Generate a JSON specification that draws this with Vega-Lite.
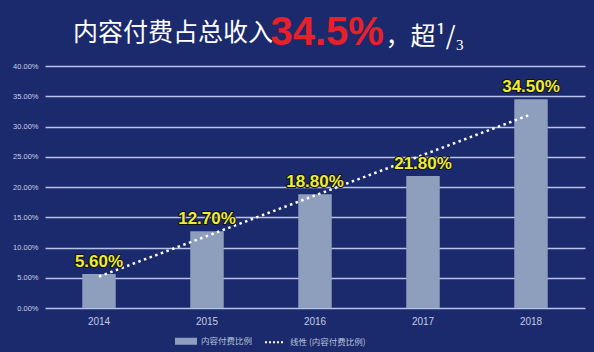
{
  "$schema": "https://vega.github.io/schema/vega-lite/v6.json",
  "width": 540,
  "height": 242,
  "autosize": {"type": "none"},
  "padding": {"left": 45, "top": 66, "right": 9, "bottom": 44},
  "background": "#1b2a6c",
  "config": {"view": {"stroke": null}, "font": "Noto Sans CJK SC"},
  "title": {
    "text": "内容付费占总收入",
    "anchor": "start",
    "frame": "group",
    "color": "#ffffff",
    "fontSize": 25,
    "fontWeight": "normal",
    "font": "Noto Sans CJK SC",
    "baseline": "alphabetic",
    "dx": 28,
    "dy": 76,
    "offset": 22
  },
  "datasets": {
    "bars": [
      {"year": "2014", "value": 0.056, "series": "内容付费比例"},
      {"year": "2015", "value": 0.127, "series": "内容付费比例"},
      {"year": "2016", "value": 0.188, "series": "内容付费比例"},
      {"year": "2017", "value": 0.218, "series": "内容付费比例"},
      {"year": "2018", "value": 0.345, "series": "内容付费比例"}
    ],
    "trend": [
      {"year": "2014", "value": 0.052, "series": "线性 (内容付费比例)"},
      {"year": "2018", "value": 0.32, "series": "线性 (内容付费比例)"}
    ]
  },
  "encoding": {
    "x": {
      "field": "year",
      "type": "ordinal",
      "scale": {"paddingInner": 0.69, "paddingOuter": 0.345},
      "axis": {
        "title": "，超¹/₃",
        "titleColor": "#ffffff",
        "titleFontSize": 25,
        "titleFontWeight": "normal",
        "titleFont": "Noto Sans CJK SC",
        "titleAlign": "left",
        "titleBaseline": "alphabetic",
        "titleX": 340,
        "titleY": -264,
        "labelAngle": 0,
        "labelFontSize": 10,
        "labelColor": "#c3cbe3",
        "labelFont": "Liberation Sans",
        "labelPadding": 8,
        "ticks": false,
        "domain": false
      }
    },
    "y": {
      "field": "value",
      "type": "quantitative",
      "scale": {"domain": [0, 0.4]},
      "axis": {
        "title": "34.5%",
        "titleAngle": 0,
        "titleColor": "#e8202a",
        "titleFontSize": 40,
        "titleFontWeight": "bold",
        "titleFont": "Liberation Sans",
        "titleAlign": "left",
        "titleBaseline": "alphabetic",
        "titleX": 225,
        "titleY": -22,
        "values": [0, 0.05, 0.1, 0.15, 0.2, 0.25, 0.3, 0.35, 0.4],
        "format": ".2%",
        "grid": true,
        "gridColor": "#b6c2e8",
        "gridWidth": 1.5,
        "domain": false,
        "ticks": false,
        "labelPadding": 7,
        "labelFontSize": 7.5,
        "labelColor": "#c8d0e8",
        "labelFont": "Liberation Sans"
      }
    }
  },
  "layer": [
    {
      "data": {"name": "bars"},
      "mark": {"type": "bar"},
      "encoding": {
        "color": {
          "field": "series",
          "type": "nominal",
          "scale": {
            "domain": ["内容付费比例", "线性 (内容付费比例)"],
            "range": ["#8e9fbd", "#ffffff"]
          },
          "legend": {
            "title": null,
            "orient": "none",
            "direction": "horizontal",
            "legendX": 130,
            "legendY": 264,
            "symbolType": "stroke",
            "symbolSize": 400,
            "labelFontSize": 8.5,
            "labelColor": "#b8c2dc",
            "labelFont": "Noto Sans CJK SC",
            "columnPadding": 8,
            "encode": {
              "symbols": {
                "update": {
                  "shape": {"signal": "datum.value == '内容付费比例' ? 'M-1,-0.25H1V0.25H-1Z' : 'stroke'"},
                  "fill": {"signal": "datum.value == '内容付费比例' ? '#8e9fbd' : 'transparent'"},
                  "stroke": {"signal": "datum.value == '内容付费比例' ? 'transparent' : '#ffffff'"},
                  "strokeDash": {"signal": "datum.value == '内容付费比例' ? [] : [2, 2]"},
                  "strokeWidth": {"value": 2}
                }
              }
            }
          }
        }
      }
    },
    {
      "data": {"name": "trend"},
      "mark": {"type": "line", "strokeDash": [2.5, 3.5], "strokeWidth": 2.5},
      "encoding": {
        "color": {"field": "series", "type": "nominal"}
      }
    },
    {
      "data": {"name": "bars"},
      "mark": {
        "type": "text",
        "baseline": "alphabetic",
        "dy": -7,
        "fontSize": 17,
        "fontWeight": "bold",
        "font": "Liberation Sans",
        "stroke": "#111111",
        "strokeWidth": 2,
        "strokeJoin": "round",
        "fill": "#111111"
      },
      "encoding": {"text": {"field": "value", "type": "quantitative", "format": ".2%"}}
    },
    {
      "data": {"name": "bars"},
      "mark": {
        "type": "text",
        "baseline": "alphabetic",
        "dy": -7,
        "fontSize": 17,
        "fontWeight": "bold",
        "font": "Liberation Sans",
        "fill": "#eeec34"
      },
      "encoding": {"text": {"field": "value", "type": "quantitative", "format": ".2%"}}
    }
  ]
}
